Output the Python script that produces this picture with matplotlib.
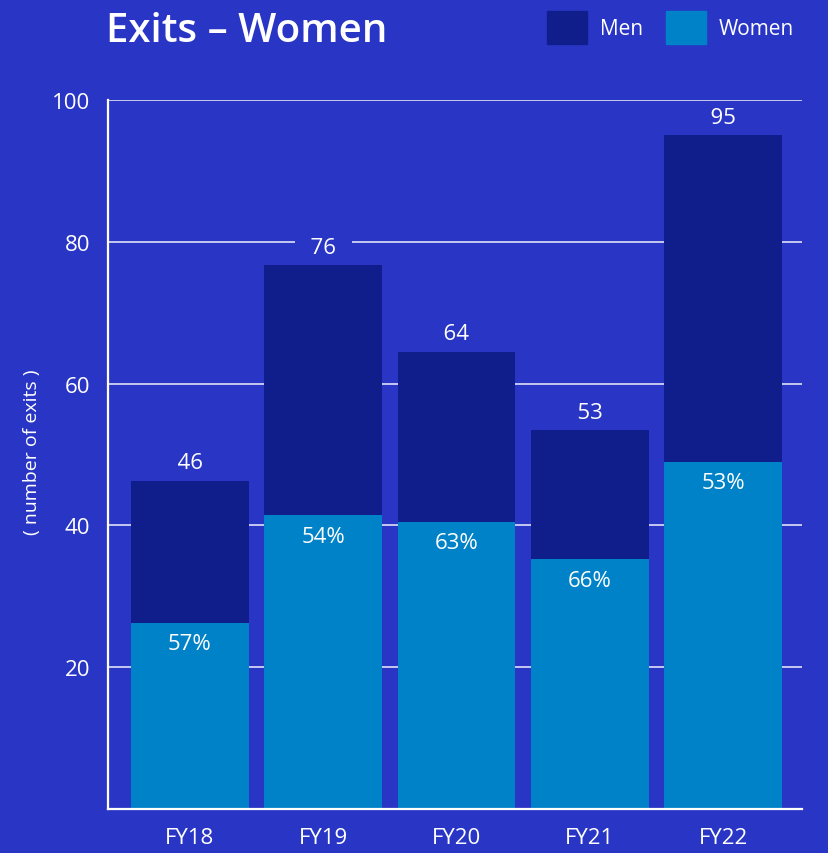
import matplotlib
matplotlib.use('Agg')

import matplotlib.pyplot as plt
from matplotlib.patches import Patch

# data
years = ["FY18", "FY19", "FY20", "FY21", "FY22"]
totals = [46.3, 76.7, 64.5, 53.4, 95.0]
total_labels = ["46", "76", "64", "53", "95"]
women = [26.3, 41.4, 40.5, 35.2, 49.0]
women_pct = ["57%", "54%", "63%", "66%", "53%"]
yticks = [20, 40, 60, 80, 100]

bg = '#2936C5'
men_col = '#101E8C'
women_col = '#0082C8'

plt.rcParams['font.family'] = ['Open Sans', 'DejaVu Sans']

fig = plt.figure(figsize=(8.29, 8.54), dpi=100, facecolor=bg)
ax = fig.add_axes([0.1303, 0.0515, 0.8367, 0.8302], facecolor=bg)

x = list(range(len(years)))
men = [t - w for t, w in zip(totals, women)]

ax.bar(x, women, width=0.885, color=women_col, zorder=3)
ax.bar(x, men, width=0.885, bottom=women, color=men_col, zorder=3)

# totals sit on a bg-coloured box so they cut through the gridlines
for xi, t, lab in zip(x, totals, total_labels):
    ax.annotate("  " + lab + "  ", (xi, t), xytext=(0, 13), textcoords='offset points',
                ha='center', va='center', color='white', fontsize=16, zorder=2.5,
                bbox=dict(boxstyle='square,pad=0.2', fc=bg, ec='none'))

for xi, w, lab in zip(x, women, women_pct):
    ax.annotate(lab, (xi, w), xytext=(0, -15), textcoords='offset points',
                ha='center', va='center', color='white', fontsize=16, zorder=4)

ax.set_xlim(-0.615, 4.59)
ax.set_ylim(0, 100)
ax.set_yticks(yticks)
ax.set_xticks(x)
ax.set_xticklabels(years)
ax.tick_params(axis='both', length=0, colors='white', labelsize=16)
ax.tick_params(axis='y', pad=13)
ax.tick_params(axis='x', pad=13)
ax.yaxis.grid(True, color='white', linewidth=1.2, alpha=0.85, zorder=0)
ax.set_axisbelow(True)

for s in ['top', 'right']:
    ax.spines[s].set_visible(False)
for s in ['left', 'bottom']:
    ax.spines[s].set_color('white')
    ax.spines[s].set_linewidth(1.6)
    ax.spines[s].set_zorder(5)

fig.text(0.0386, 0.471, "( number of exits )", rotation=90, color='white',
         fontsize=14, ha='center', va='center')

fig.text(0.128, 0.963, "Exits \u2013 Women", color='white', fontsize=29,
         fontweight='semibold', ha='left', va='center')

handles = [Patch(color=men_col, label='Men'), Patch(color=women_col, label='Women')]
leg = fig.legend(handles=handles, loc='center right', bbox_to_anchor=(0.958, 0.9666),
                 ncol=2, frameon=False, fontsize=15, handlelength=1.92, handleheight=2.07,
                 handletextpad=0.63, columnspacing=1.1, borderaxespad=0, borderpad=0)
for t in leg.get_texts():
    t.set_color('white')

plt.savefig("out.png", dpi=100, facecolor=bg)
plt.close()
